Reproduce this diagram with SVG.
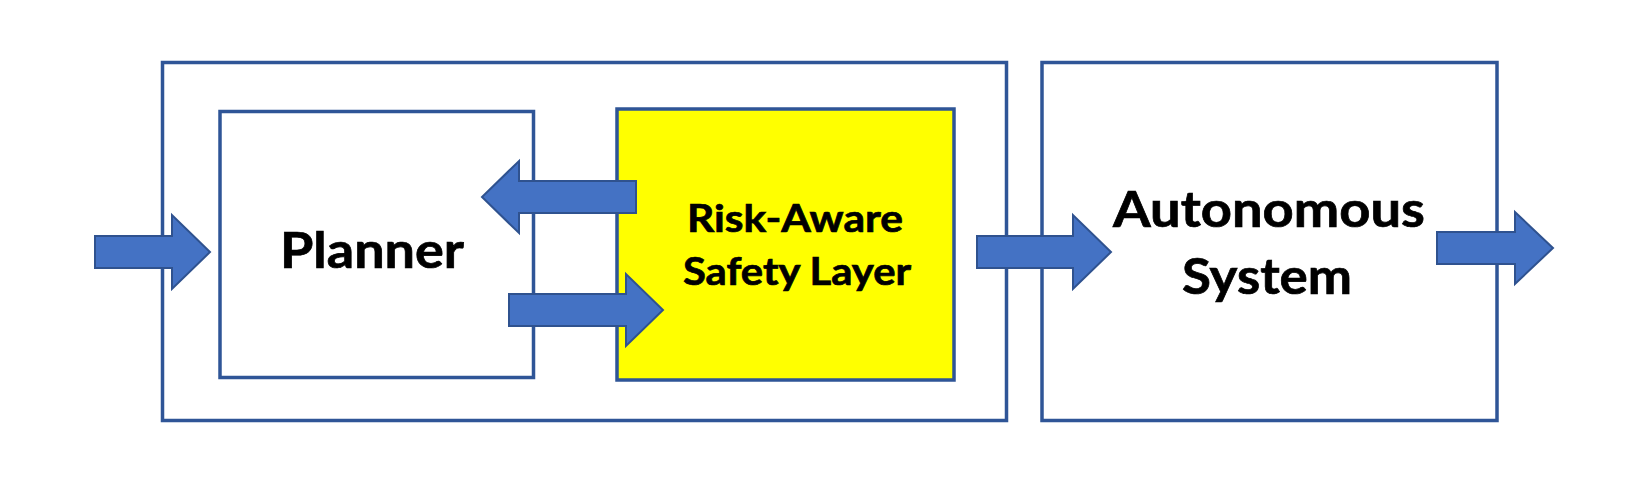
<svg xmlns="http://www.w3.org/2000/svg" width="1634" height="504" viewBox="0 0 1634 504">
  <style>
    .box { fill: #FFFFFF; stroke: #2F5597; stroke-width: 3.5; }
    .yellow { fill: #FFFF00; }
    .label { font-family: Lato, "Open Sans", "Liberation Sans", sans-serif; font-weight: 700; fill: #000000; stroke: #000000; stroke-width: 0.7; text-anchor: middle; }
    .big { font-size: 50px; }
    .small { font-size: 38px; }
    .arrow { fill: #4472C4; stroke: #2F528F; stroke-width: 2; stroke-linejoin: miter; }
  </style>
  <rect width="1634" height="504" fill="#FFFFFF"/>
  <g id="safety-module">
    <rect class="box" x="162.5" y="62.5" width="844" height="358"/>
  </g>
  <g id="planner">
    <rect class="box" x="220" y="111.5" width="313.5" height="266"/>
    <text class="label big" x="372" y="268" font-size="51" textLength="184" lengthAdjust="spacingAndGlyphs">Planner</text>
  </g>
  <g id="risk-aware-safety-layer">
    <rect class="box yellow" x="617" y="109" width="337" height="271"/>
    <text class="label small" x="795" y="232" textLength="216" lengthAdjust="spacingAndGlyphs">Risk-Aware</text>
    <text class="label small" x="797" y="285" textLength="228" lengthAdjust="spacingAndGlyphs">Safety Layer</text>
  </g>
  <g id="autonomous-system">
    <rect class="box" x="1042" y="62.5" width="455" height="358"/>
    <text class="label big" x="1269" y="227" textLength="312" lengthAdjust="spacingAndGlyphs">Autonomous</text>
    <text class="label big" x="1267" y="294" textLength="170" lengthAdjust="spacingAndGlyphs">System</text>
  </g>
  <g id="connectors">
    <polygon class="arrow" points="95,236 172,236 172,215 210,252 172,289 172,268 95,268"/>
    <polygon class="arrow" points="636,181 519,181 519,161 482,197 519,233 519,213 636,213"/>
    <polygon class="arrow" points="509,294 626,294 626,274 663,310 626,346 626,326 509,326"/>
    <polygon class="arrow" points="977,236 1073,236 1073,215 1111,252 1073,289 1073,268 977,268"/>
    <polygon class="arrow" points="1437,232 1515,232 1515,212 1553,248 1515,284 1515,264 1437,264"/>
  </g>
</svg>
